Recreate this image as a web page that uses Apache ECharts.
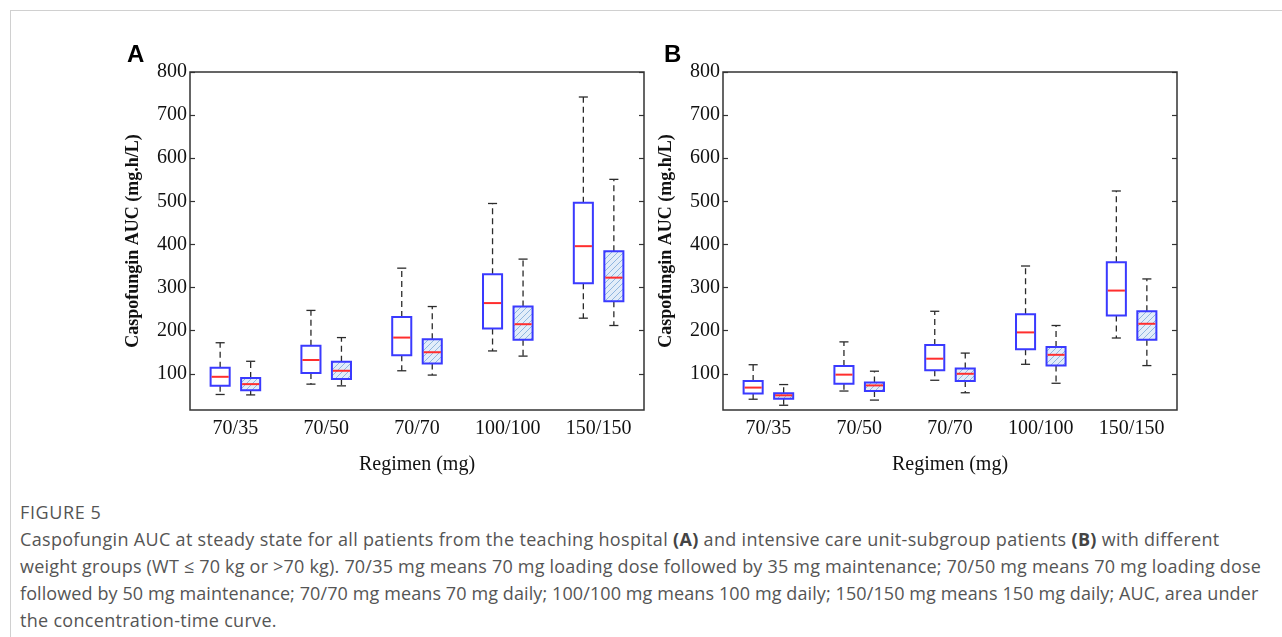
<!DOCTYPE html>
<html>
<head>
<meta charset="utf-8">
<script src="https://cdn.jsdelivr.net/npm/echarts@6.0.0/dist/echarts.min.js"></script>
<style>
  html, body { margin: 0; padding: 0; background: #fff; }
  #frame { position: absolute; left: 10px; top: 10px; width: 1272px; height: 627px; border-top: 1px solid #d0d0d0; border-left: 1px solid #d0d0d0; }
  #chart { position: absolute; left: 0; top: 0; width: 1282px; height: 490px; }
  #caption { position: absolute; left: 20px; top: 499px; font-family: "Open Sans", sans-serif; font-size: 18px; letter-spacing: 0.3px; line-height: 27px; color: #555; white-space: nowrap; }
  #caption .fig { color: #555; letter-spacing: 0.6px; }
  #caption .l1 { letter-spacing: 0.32px; }
  #caption .l2 { letter-spacing: 0.2px; }
  #caption .l3 { letter-spacing: 0.1px; }
  #caption b { font-weight: 700; color: #444; }
</style>
</head>
<body>
<div id="frame"></div>
<div id="chart"></div>
<div id="caption">
  <div class="fig">FIGURE 5</div>
  <div class="l1">Caspofungin AUC at steady state for all patients from the teaching hospital <b>(A)</b> and intensive care unit-subgroup patients <b>(B)</b> with different</div>
  <div class="l2">weight groups (WT ≤ 70 kg or &gt;70 kg). 70/35 mg means 70 mg loading dose followed by 35 mg maintenance; 70/50 mg means 70 mg loading dose</div>
  <div class="l3">followed by 50 mg maintenance; 70/70 mg means 70 mg daily; 100/100 mg means 100 mg daily; 150/150 mg means 150 mg daily; AUC, area under</div>
  <div>the concentration-time curve.</div>
</div>
<script>
// ---- data ----
const categories = ['70/35', '70/50', '70/70', '100/100', '150/150'];
const yTicks = [100, 200, 300, 400, 500, 600, 700, 800];
// each entry: [lower whisker, Q1, median, Q3, upper whisker]
const panelA_wtLow = [[52, 72, 93, 114, 172], [76, 102, 132, 165, 247], [107, 143, 184, 232, 345], [153, 205, 264, 331, 495], [229, 310, 396, 497, 742]];
const panelA_wtHigh = [[51, 62, 76, 90, 129], [72, 88, 107, 128, 184], [97, 124, 150, 180, 256], [141, 179, 215, 256, 366], [212, 268, 323, 384, 551]];
const panelB_wtLow = [[41, 54, 68, 83, 121], [60, 77, 98, 118, 174], [85, 108, 135, 167, 245], [122, 157, 196, 238, 350], [183, 235, 293, 359, 524]];
const panelB_wtHigh = [[27, 42, 50, 55, 75], [39, 60, 73, 80, 106], [56, 83, 100, 112, 148], [78, 119, 144, 162, 212], [119, 179, 216, 245, 320]];
const yMin = 16, yMax = 800;

// ---- hatch pattern ----
function makeHatch() {
  const c = document.createElement('canvas');
  c.width = 6; c.height = 6;
  const ctx = c.getContext('2d');
  ctx.fillStyle = '#e2edf9';
  ctx.fillRect(0, 0, 6, 6);
  ctx.strokeStyle = '#8fb6df';
  ctx.lineWidth = 1;
  ctx.beginPath();
  ctx.moveTo(0, 6); ctx.lineTo(6, 0);
  ctx.moveTo(-1, 1); ctx.lineTo(1, -1);
  ctx.moveTo(5, 7); ctx.lineTo(7, 5);
  ctx.stroke();
  return c;
}
const hatch = { image: makeHatch(), repeat: 'repeat' };

function toData(arr) { return arr.map((d, i) => [i].concat(d)); }

function makeRender(offset, fill) {
  return function (params, api) {
    const x = api.value(0);
    const band = api.size([1, 0])[0];
    const w = band * 0.21, cap = band * 0.1;
    const pts = [1, 2, 3, 4, 5].map(k => api.coord([x, api.value(k)]));
    const cx = pts[0][0] + offset * band;
    const yLow = pts[0][1], yQ1 = pts[1][1], yMed = pts[2][1], yQ3 = pts[3][1], yHigh = pts[4][1];
    const dash = { stroke: '#2b2b2b', lineWidth: 1.3, lineDash: [6, 4], fill: null };
    const solid = { stroke: '#2b2b2b', lineWidth: 1.3 };
    return {
      type: 'group',
      children: [
        { type: 'line', shape: { x1: cx, y1: yQ3, x2: cx, y2: yHigh }, style: dash },
        { type: 'line', shape: { x1: cx, y1: yQ1, x2: cx, y2: yLow }, style: dash },
        { type: 'line', shape: { x1: cx - cap / 2, y1: yHigh, x2: cx + cap / 2, y2: yHigh }, style: solid },
        { type: 'line', shape: { x1: cx - cap / 2, y1: yLow, x2: cx + cap / 2, y2: yLow }, style: solid },
        { type: 'rect', shape: { x: cx - w / 2, y: yQ3, width: w, height: yQ1 - yQ3 }, style: { fill: fill, stroke: '#3a3aff', lineWidth: 2 } },
        { type: 'line', shape: { x1: cx - w / 2 + 1, y1: yMed, x2: cx + w / 2 - 1, y2: yMed }, style: { stroke: '#ff2e2e', lineWidth: 2 } }
      ]
    };
  };
}

const serif = '"Liberation Serif", "Times New Roman", serif';
const grids = [
  { left: 190, top: 72, width: 454, height: 338 },
  { left: 723, top: 72, width: 454, height: 338 }
];

const option = {
  animation: false,
  backgroundColor: 'transparent',
  title: [
    { text: 'A', left: 122, top: 38, textStyle: { fontFamily: '"Liberation Sans", Arial, sans-serif', fontWeight: 'bold', fontSize: 24, color: '#000' } },
    { text: 'B', left: 659, top: 38, textStyle: { fontFamily: '"Liberation Sans", Arial, sans-serif', fontWeight: 'bold', fontSize: 24, color: '#000' } }
  ],
  grid: grids.map(g => Object.assign({ show: true, borderColor: '#333', borderWidth: 1.5, backgroundColor: 'transparent' }, g)),
  xAxis: [0, 1].map(i => ({
    type: 'category', gridIndex: i, data: categories,
    name: 'Regimen (mg)', nameLocation: 'middle', nameGap: 45,
    nameTextStyle: { fontFamily: serif, fontSize: 20, color: '#111' },
    axisLine: { show: false }, axisTick: { show: false }, splitLine: { show: false },
    axisLabel: { fontFamily: serif, fontSize: 20, color: '#111', margin: 9 }
  })),
  yAxis: [0, 1].flatMap(i => ([
    {
      type: 'value', gridIndex: i, min: yMin, max: yMax, position: 'left',
      name: 'Caspofungin AUC (mg.h/L)', nameLocation: 'middle', nameGap: 48,
      nameTextStyle: { fontFamily: serif, fontSize: 18, fontWeight: 'bold', color: '#111' },
      axisLine: { show: false }, splitLine: { show: false },
      axisTick: { show: true, inside: true, length: 5, customValues: yTicks, lineStyle: { color: '#333', width: 1.2 } },
      axisLabel: { fontFamily: serif, fontSize: 20, color: '#111', margin: 3, customValues: yTicks }
    },
    {
      type: 'value', gridIndex: i, min: yMin, max: yMax, position: 'right',
      axisLine: { show: false }, splitLine: { show: false },
      axisTick: { show: true, inside: true, length: 5, customValues: yTicks, lineStyle: { color: '#333', width: 1.2 } },
      axisLabel: { show: false }
    }
  ])),
  series: [
    { name: 'A WT≤70', type: 'custom', xAxisIndex: 0, yAxisIndex: 0, data: toData(panelA_wtLow), renderItem: makeRender(-0.168, '#ffffff'), encode: { x: 0, y: [1, 2, 3, 4, 5] } },
    { name: 'A WT>70', type: 'custom', xAxisIndex: 0, yAxisIndex: 0, data: toData(panelA_wtHigh), renderItem: makeRender(0.168, hatch), encode: { x: 0, y: [1, 2, 3, 4, 5] } },
    { name: 'B WT≤70', type: 'custom', xAxisIndex: 1, yAxisIndex: 2, data: toData(panelB_wtLow), renderItem: makeRender(-0.168, '#ffffff'), encode: { x: 0, y: [1, 2, 3, 4, 5] } },
    { name: 'B WT>70', type: 'custom', xAxisIndex: 1, yAxisIndex: 2, data: toData(panelB_wtHigh), renderItem: makeRender(0.168, hatch), encode: { x: 0, y: [1, 2, 3, 4, 5] } }
  ]
};

const chart = echarts.init(document.getElementById('chart'), null, { renderer: 'canvas' });
chart.setOption(option);
</script>
</body>
</html>
